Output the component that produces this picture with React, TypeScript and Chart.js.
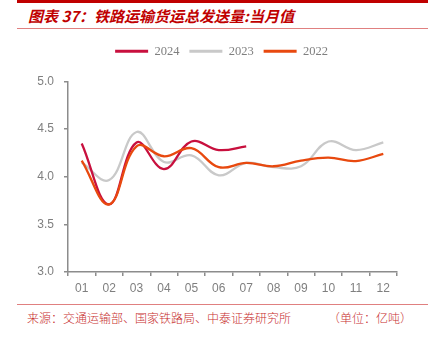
import React, { useEffect, useRef } from "react";
import { Chart, registerables } from "chart.js";

Chart.register(...registerables);

const months = ["01", "02", "03", "04", "05", "06", "07", "08", "09", "10", "11", "12"];
const series2024 = [4.35, 3.71, 4.36, 4.08, 4.37, 4.28, 4.32, null, null, null, null, null];
const series2023 = [4.15, 3.965, 4.47, 4.155, 4.225, 4.015, 4.145, 4.1, 4.11, 4.37, 4.28, 4.36];
const series2022 = [4.17, 3.71, 4.32, 4.215, 4.3, 4.1, 4.145, 4.11, 4.17, 4.2, 4.165, 4.24];
const yTicks = [3.0, 3.5, 4.0, 4.5, 5.0];

const RED = "#C00000";
const PINK = "#E08080";

export default function App() {
  const ref = useRef<HTMLCanvasElement | null>(null);

  useEffect(() => {
    if (!ref.current) return;
    const legendTweak = {
      id: "legendTweak",
      beforeInit(chart: any) {
        const orig = chart.legend.fit;
        chart.legend.fit = function () {
          orig.call(this);
          this.height += 14;
        };
      },
      afterLayout(chart: any) {
        chart.legend.left = 15;
        chart.legend.right = 428;
      },
    };
    const chart = new Chart(ref.current, {
      type: "line",
      data: {
        labels: months,
        datasets: [
          { label: "2024", data: series2024, borderColor: "#C8103E", backgroundColor: "#C8103E", borderWidth: 2.3, order: 1 },
          { label: "2023", data: series2023, borderColor: "#C9C9C9", backgroundColor: "#C9C9C9", borderWidth: 2.3, order: 2 },
          { label: "2022", data: series2022, borderColor: "#E8490F", backgroundColor: "#E8490F", borderWidth: 2.3, order: 0 },
        ],
      },
      options: {
        animation: false,
        responsive: false,
        maintainAspectRatio: false,
        spanGaps: false,
        elements: {
          point: { radius: 0, hoverRadius: 0 },
          line: { tension: 0.4, cubicInterpolationMode: "default" },
        },
        layout: { padding: { top: 5, left: 0, right: 31, bottom: 0 } },
        plugins: {
          tooltip: { enabled: false },
          legend: {
            position: "top",
            align: "center",
            labels: {
              boxWidth: 33,
              boxHeight: 3,
              padding: 10,
              color: "#7F7F7F",
              font: { family: "'Liberation Serif', serif", size: 12.5 },
              generateLabels(chart: any) {
                return chart.data.datasets.map((ds: any, i: number) => ({
                  text: ds.label,
                  fillStyle: ds.borderColor,
                  strokeStyle: ds.borderColor,
                  lineWidth: 0,
                  hidden: false,
                  datasetIndex: i,
                  fontColor: "#7F7F7F",
                }));
              },
            },
          },
        },
        scales: {
          x: {
            offset: true,
            grid: {
              offset: true,
              drawOnChartArea: false,
              drawTicks: true,
              tickLength: 4,
              color: "#8C8C8C",
              lineWidth: 1.5,
            },
            border: { display: true, color: "#8C8C8C", width: 1.5 },
            ticks: {
              color: "#7F7F7F",
              padding: 5,
              font: { family: "'Liberation Sans', Arial, sans-serif", size: 12 },
              maxRotation: 0,
              autoSkip: false,
            },
            afterFit(scale: any) {
              scale.height = 28;
            },
          },
          y: {
            min: 3,
            max: 5,
            afterBuildTicks(scale: any) {
              scale.ticks = yTicks.map((v) => ({ value: v }));
            },
            grid: {
              drawOnChartArea: false,
              drawTicks: true,
              tickLength: 4,
              color: "#8C8C8C",
              lineWidth: 1.5,
            },
            border: { display: true, color: "#8C8C8C", width: 1.5 },
            ticks: {
              color: "#7F7F7F",
              padding: 10,
              font: { family: "'Liberation Sans', Arial, sans-serif", size: 12 },
              callback: (v: any) => Number(v).toFixed(1),
            },
            afterFit(scale: any) {
              scale.width = 68;
            },
          },
        },
      },
      plugins: [legendTweak],
    } as any);
    return () => chart.destroy();
  }, []);

  return (
    <div style={{ position: "absolute", left: 0, top: 0, width: 428, height: 339, background: "#fff", overflow: "hidden" }}>
      <div style={{ position: "absolute", left: 17, top: 0, width: 411, height: 2.5, background: RED }} />
      <div
        style={{
          position: "absolute",
          left: 28,
          top: 6,
          height: 20,
          lineHeight: "20px",
          fontFamily: "'Noto Sans CJK SC', sans-serif",
          fontSize: 15,
          fontWeight: 700,
          fontStyle: "italic",
          color: RED,
          whiteSpace: "nowrap",
        }}
      >
        图表 37：铁路运输货运总发送量:当月值
      </div>
      <div style={{ position: "absolute", left: 17, top: 28, width: 411, height: 1, background: PINK }} />
      <canvas ref={ref} width={428} height={270} style={{ position: "absolute", left: 0, top: 30, width: 428, height: 270 }} />
      <div style={{ position: "absolute", left: 17, top: 304, width: 411, height: 1, background: PINK }} />
      <div
        style={{
          position: "absolute",
          left: 27,
          top: 311,
          lineHeight: "14px",
          fontFamily: "'Noto Sans CJK SC', sans-serif",
          fontSize: 12,
          fontWeight: 300,
          color: "#C83030",
          whiteSpace: "nowrap",
        }}
      >
        来源：交通运输部、国家铁路局、中泰证券研究所
      </div>
      <div
        style={{
          position: "absolute",
          left: 328,
          top: 311,
          lineHeight: "14px",
          fontFamily: "'Noto Sans CJK SC', sans-serif",
          fontSize: 12,
          fontWeight: 300,
          color: "#C83030",
          whiteSpace: "nowrap",
        }}
      >
        （单位：亿吨）
      </div>
    </div>
  );
}
